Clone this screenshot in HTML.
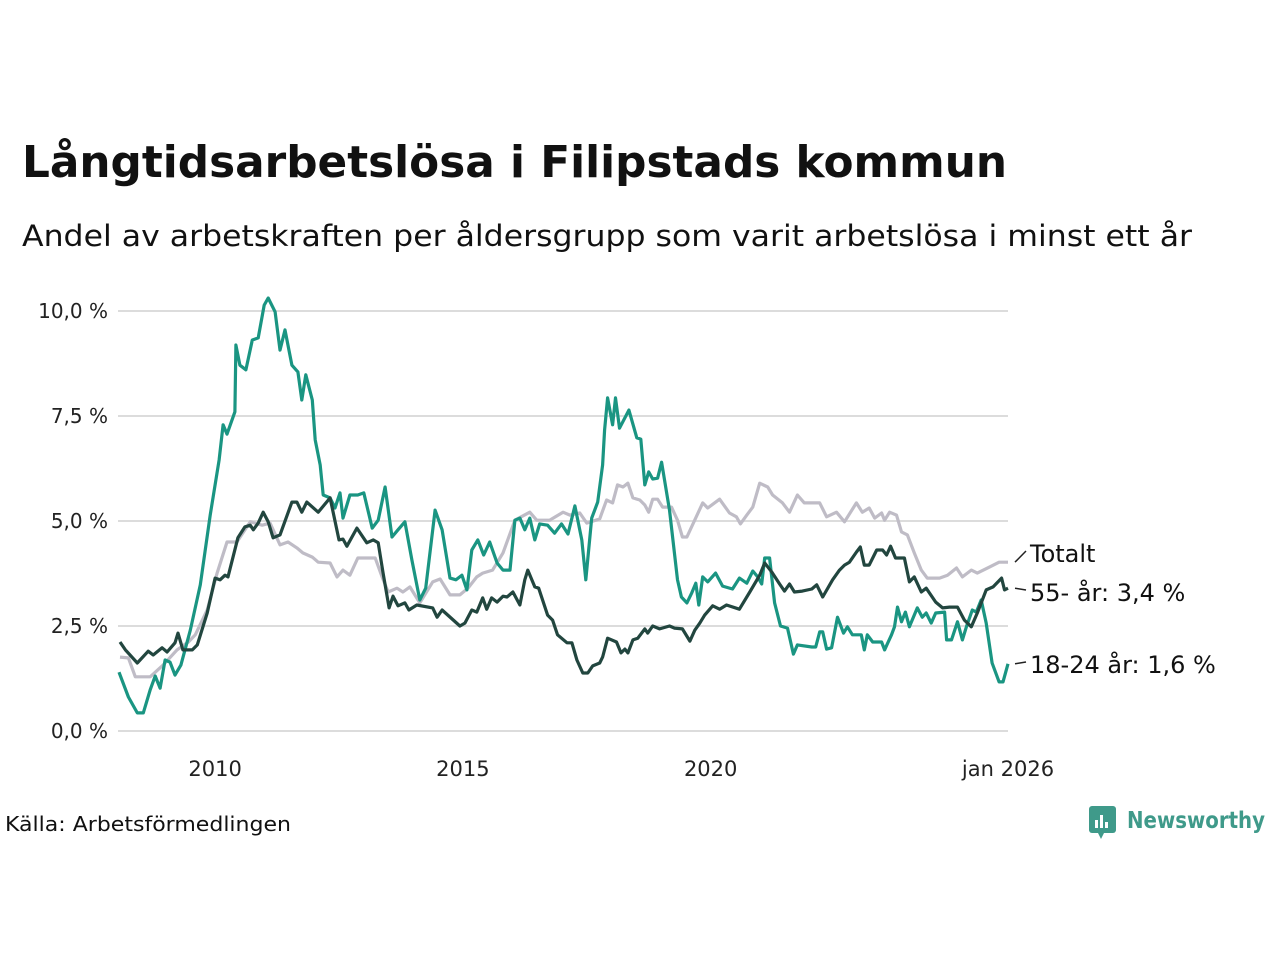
<!DOCTYPE html>
<html><head><meta charset="utf-8"><style>
html,body{margin:0;padding:0;background:#fff;}
svg{display:block;font-family:"DejaVu Sans","Liberation Sans",sans-serif;}
</style></head><body>
<svg id="chart" width="1280" height="960" viewBox="0 0 1280 960">
<text x="22" y="177" font-size="44" font-weight="bold" fill="#111" textLength="985" lengthAdjust="spacingAndGlyphs">Långtidsarbetslösa i Filipstads kommun</text>
<text x="22" y="246" font-size="29" fill="#111" textLength="1170" lengthAdjust="spacingAndGlyphs">Andel av arbetskraften per åldersgrupp som varit arbetslösa i minst ett år</text>
<g id="grid"></g>
<g id="yticks"></g>
<g id="xticks"></g>
<g id="lines"></g>
<g id="labels"></g>
<text x="5" y="831" font-size="20" fill="#111" textLength="286" lengthAdjust="spacingAndGlyphs">Källa: Arbetsförmedlingen</text>
<g>
<rect x="1089" y="806" width="27" height="27" rx="3" fill="#3f9a8a"/>
<polygon points="1098,833 1104,833 1101,839" fill="#3f9a8a"/>
<rect x="1095" y="820" width="3" height="8" fill="#fff"/><rect x="1100" y="815" width="3" height="13" fill="#fff"/><rect x="1105" y="822" width="3" height="6" fill="#fff"/>
<text x="1127" y="828" font-size="23" font-weight="bold" fill="#3f9a8a" textLength="138" lengthAdjust="spacingAndGlyphs">Newsworthy</text>
</g>
</svg>
<script>
const yTickValues=[0,2.5,5,7.5,10];
const yTickLabels=["0,0 %","2,5 %","5,0 %","7,5 %","10,0 %"];
const xTickValues=[2010,2015,2020,2026];
const xTickLabels=["2010","2015","2020","jan 2026"];
const seriesNames=["Totalt","55- år","18-24 år"];
const endLabels=["Totalt","55- år: 3,4 %","18-24 år: 1,6 %"];
const totalDates=[2008.08,2008.25,2008.39,2008.69,2008.95,2009.23,2009.46,2009.60,2009.84,2010.04,2010.24,2010.44,2010.71,2010.95,2011.11,2011.31,2011.47,2011.65,2011.77,2011.96,2012.08,2012.32,2012.46,2012.58,2012.72,2012.88,2013.23,2013.37,2013.49,2013.67,2013.79,2013.93,2014.13,2014.39,2014.54,2014.74,2014.94,2015.10,2015.28,2015.40,2015.60,2015.81,2016.05,2016.35,2016.49,2016.75,2017.02,2017.16,2017.36,2017.50,2017.76,2017.90,2018.02,2018.12,2018.23,2018.33,2018.43,2018.57,2018.67,2018.75,2018.83,2018.93,2019.03,2019.21,2019.33,2019.43,2019.52,2019.84,2019.94,2020.18,2020.38,2020.52,2020.60,2020.73,2020.85,2020.99,2021.15,2021.25,2021.45,2021.59,2021.75,2021.89,2022.20,2022.34,2022.54,2022.70,2022.94,2023.06,2023.20,2023.31,2023.45,2023.51,2023.61,2023.75,2023.85,2023.97,2024.11,2024.25,2024.37,2024.62,2024.78,2024.96,2025.08,2025.26,2025.38,2025.62,2025.82,2026.00];
const totalValues=[1.76,1.74,1.29,1.29,1.57,1.93,2.12,2.29,2.88,3.76,4.50,4.50,4.98,4.90,4.95,4.43,4.50,4.36,4.24,4.14,4.02,4.00,3.67,3.83,3.71,4.12,4.12,3.67,3.31,3.40,3.31,3.43,3.05,3.55,3.62,3.24,3.24,3.40,3.67,3.76,3.83,4.24,5.02,5.21,5.02,5.02,5.21,5.14,5.19,4.95,5.05,5.50,5.43,5.86,5.81,5.90,5.55,5.50,5.38,5.21,5.52,5.52,5.33,5.33,5.02,4.62,4.62,5.43,5.31,5.52,5.19,5.10,4.93,5.14,5.33,5.90,5.81,5.62,5.43,5.21,5.62,5.43,5.43,5.10,5.21,4.98,5.43,5.21,5.31,5.07,5.19,5.02,5.21,5.14,4.74,4.67,4.24,3.83,3.64,3.64,3.71,3.88,3.67,3.83,3.76,3.90,4.02,4.02];
const olderDates=[2008.08,2008.19,2008.43,2008.65,2008.75,2008.93,2009.03,2009.19,2009.25,2009.35,2009.54,2009.64,2009.84,2010.00,2010.10,2010.20,2010.26,2010.46,2010.60,2010.71,2010.77,2010.87,2010.97,2011.07,2011.17,2011.31,2011.55,2011.65,2011.75,2011.85,2012.08,2012.32,2012.50,2012.58,2012.66,2012.86,2013.06,2013.19,2013.29,2013.39,2013.51,2013.59,2013.69,2013.83,2013.91,2014.07,2014.39,2014.48,2014.58,2014.94,2015.04,2015.18,2015.28,2015.40,2015.48,2015.58,2015.69,2015.81,2015.89,2016.01,2016.15,2016.25,2016.31,2016.45,2016.53,2016.71,2016.81,2016.91,2017.10,2017.20,2017.30,2017.42,2017.52,2017.62,2017.76,2017.82,2017.92,2018.10,2018.19,2018.27,2018.33,2018.43,2018.53,2018.67,2018.73,2018.83,2018.97,2019.17,2019.27,2019.43,2019.58,2019.68,2019.78,2019.88,2020.04,2020.18,2020.32,2020.58,2020.79,2020.99,2021.09,2021.23,2021.39,2021.49,2021.59,2021.69,2021.85,2022.04,2022.14,2022.26,2022.46,2022.60,2022.70,2022.80,2022.94,2023.02,2023.10,2023.20,2023.35,2023.47,2023.55,2023.63,2023.73,2023.91,2024.01,2024.11,2024.25,2024.35,2024.54,2024.68,2024.82,2024.98,2025.12,2025.26,2025.38,2025.56,2025.70,2025.87,2025.93,2026.00];
const olderValues=[2.12,1.93,1.62,1.90,1.81,1.98,1.88,2.10,2.33,1.93,1.93,2.05,2.81,3.64,3.60,3.71,3.67,4.60,4.86,4.90,4.79,4.95,5.21,4.98,4.60,4.67,5.45,5.45,5.21,5.45,5.21,5.55,4.55,4.57,4.40,4.83,4.48,4.55,4.48,3.76,2.93,3.21,2.98,3.05,2.88,3.00,2.93,2.71,2.88,2.50,2.57,2.88,2.83,3.17,2.90,3.17,3.07,3.21,3.19,3.31,3.00,3.60,3.83,3.43,3.40,2.76,2.64,2.29,2.10,2.10,1.69,1.38,1.38,1.55,1.62,1.76,2.21,2.12,1.86,1.95,1.86,2.17,2.21,2.43,2.33,2.50,2.43,2.50,2.45,2.43,2.14,2.40,2.57,2.76,2.98,2.90,3.00,2.90,3.31,3.71,4.00,3.79,3.50,3.33,3.50,3.31,3.33,3.38,3.48,3.19,3.60,3.83,3.95,4.02,4.26,4.38,3.95,3.95,4.31,4.31,4.19,4.40,4.12,4.12,3.55,3.67,3.31,3.40,3.07,2.93,2.95,2.95,2.64,2.48,2.81,3.36,3.43,3.64,3.36,3.40];
const youthDates=[2008.06,2008.25,2008.43,2008.55,2008.69,2008.79,2008.89,2008.99,2009.09,2009.19,2009.31,2009.50,2009.70,2009.90,2010.08,2010.16,2010.24,2010.40,2010.42,2010.50,2010.62,2010.75,2010.87,2010.99,2011.07,2011.21,2011.31,2011.41,2011.55,2011.67,2011.75,2011.83,2011.96,2012.02,2012.12,2012.18,2012.32,2012.42,2012.52,2012.58,2012.72,2012.88,2013.00,2013.17,2013.29,2013.43,2013.57,2013.69,2013.83,2013.97,2014.13,2014.25,2014.44,2014.58,2014.74,2014.86,2014.98,2015.08,2015.18,2015.30,2015.42,2015.54,2015.69,2015.81,2015.95,2016.05,2016.15,2016.25,2016.35,2016.45,2016.55,2016.71,2016.85,2016.99,2017.12,2017.26,2017.40,2017.48,2017.60,2017.72,2017.82,2017.86,2017.92,2018.02,2018.08,2018.16,2018.35,2018.51,2018.59,2018.67,2018.75,2018.83,2018.93,2019.01,2019.17,2019.33,2019.41,2019.52,2019.62,2019.70,2019.76,2019.84,2019.94,2020.10,2020.24,2020.44,2020.58,2020.73,2020.85,2020.95,2021.03,2021.09,2021.19,2021.29,2021.41,2021.55,2021.67,2021.75,2022.04,2022.12,2022.20,2022.26,2022.34,2022.44,2022.56,2022.68,2022.76,2022.86,2023.04,2023.10,2023.16,2023.27,2023.45,2023.51,2023.65,2023.71,2023.77,2023.85,2023.93,2024.01,2024.17,2024.27,2024.35,2024.45,2024.54,2024.72,2024.76,2024.86,2024.98,2025.08,2025.16,2025.28,2025.36,2025.46,2025.56,2025.68,2025.82,2025.90,2026.00];
const youthValues=[1.40,0.81,0.43,0.43,0.98,1.31,1.02,1.69,1.64,1.33,1.57,2.40,3.48,5.14,6.45,7.29,7.07,7.60,9.19,8.71,8.60,9.31,9.36,10.14,10.31,9.98,9.07,9.55,8.71,8.55,7.88,8.48,7.88,6.93,6.33,5.62,5.55,5.31,5.67,5.07,5.62,5.62,5.67,4.83,5.02,5.81,4.62,4.79,4.98,4.07,3.12,3.40,5.26,4.79,3.64,3.60,3.71,3.36,4.31,4.55,4.19,4.50,4.00,3.83,3.83,5.02,5.07,4.79,5.07,4.55,4.93,4.90,4.71,4.93,4.69,5.36,4.55,3.60,5.07,5.45,6.33,7.17,7.93,7.29,7.93,7.21,7.64,6.98,6.95,5.86,6.17,6.00,6.02,6.40,5.26,3.60,3.19,3.05,3.29,3.52,3.00,3.67,3.55,3.76,3.45,3.38,3.64,3.52,3.81,3.67,3.50,4.12,4.12,3.05,2.50,2.45,1.83,2.05,2.00,2.00,2.36,2.36,1.95,1.98,2.71,2.33,2.48,2.29,2.29,1.93,2.29,2.12,2.12,1.93,2.29,2.48,2.95,2.60,2.83,2.48,2.93,2.71,2.81,2.57,2.81,2.83,2.17,2.17,2.60,2.17,2.48,2.88,2.83,3.12,2.57,1.62,1.17,1.17,1.60];

const NS="http://www.w3.org/2000/svg";
const X0=118,X1=1008,D0=2008.04,D1=2026.0,Y0=731,Y1=311;
function xs(d){return X0+(d-D0)/(D1-D0)*(X1-X0);}
function ys(v){return Y0-(v/10)*(Y0-Y1);}
function mk(tag,attrs,parent){const e=document.createElementNS(NS,tag);for(const k in attrs)e.setAttribute(k,attrs[k]);parent.appendChild(e);return e;}
const grid=document.getElementById('grid'),yt=document.getElementById('yticks'),xt=document.getElementById('xticks'),lines=document.getElementById('lines'),labels=document.getElementById('labels');
yTickValues.forEach((v,i)=>{
  const l=mk('line',{x1:118,x2:1008,y1:ys(v),y2:ys(v),stroke:'#dcdcdc','stroke-width':2},grid);
  
  
  const t=mk('text',{x:108,y:ys(v)+7,'text-anchor':'end','font-size':20,fill:'#222'},yt);
  t.textContent=yTickLabels[i];
  
  
});
xTickValues.forEach((v,i)=>{
  const t=mk('text',{x:xs(v),y:776,'text-anchor':'middle','font-size':21,fill:'#222'},xt);
  t.textContent=xTickLabels[i];
  
  
});
const series=[[totalDates,totalValues,'#bfbcc6','series-totalt'],[youthDates,youthValues,'#1a9582','series-18-24'],[olderDates,olderValues,'#22463f','series-55-plus']];
series.forEach(s=>{
  const d=s[0].map((dt,i)=>(i?'L':'M')+xs(dt).toFixed(1)+','+ys(s[1][i]).toFixed(1)).join('');
  const p=mk('path',{d:d,fill:'none',stroke:s[2],'stroke-width':3.2,'stroke-linejoin':'round'},lines);
  
  
});
const ends=[[totalValues,553],[olderValues,592],[youthValues,664]];
ends.forEach((e,i)=>{
  const yv=ys(e[0][e[0].length-1]);
  const ln=mk('line',{x1:1015,x2:1026,y1:yv,y2:e[1]-2,stroke:'#222','stroke-width':1.5},labels);
  
  
  const t=mk('text',{x:1030,y:e[1]+9,'font-size':24,fill:'#111'},labels);
  t.textContent=endLabels[i];
  
  
});
</script>
</body></html>
